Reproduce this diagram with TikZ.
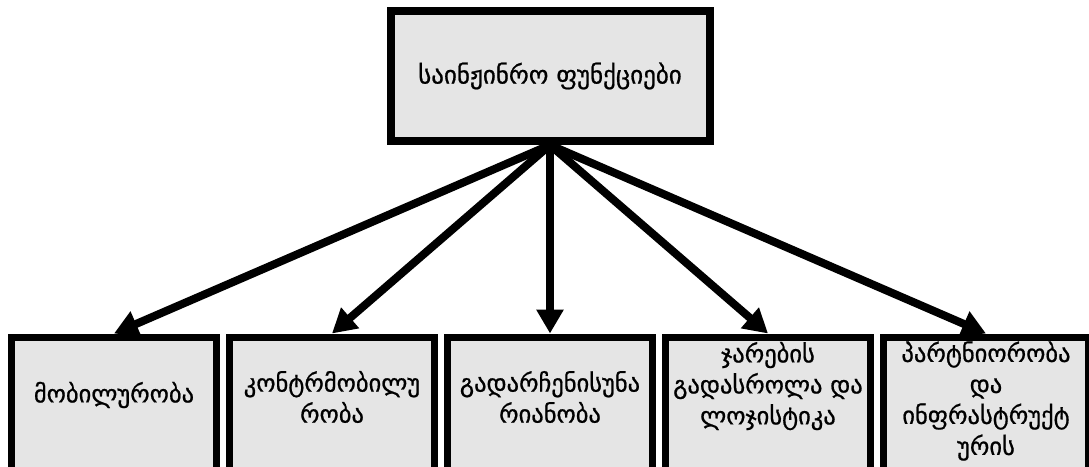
\documentclass[tikz,border=0pt]{standalone}
\usepackage{fontspec}
\newfontfamily\geofont[FakeBold=0.8]{DejaVu Sans}
\usetikzlibrary{positioning,arrows.meta}
\tikzset{
  topbox/.style  = {draw, line width=8pt, fill=black!10, minimum width=319pt,
                    minimum height=130pt, inner sep=0pt,
                    font=\geofont\fontsize{25}{31}\selectfont},
  cellbox/.style = {draw, line width=7pt, fill=black!10, anchor=north,
                    minimum width=205pt, minimum height=160pt, inner sep=0pt},
  celltxt/.style = {align=center, inner sep=0pt,
                    font=\geofont\fontsize{24.5}{31}\selectfont},
  harrow/.style  = {line width=8pt, -{Triangle[length=24pt,width=26pt]}},
}

\begin{document}
\begin{tikzpicture}[x=1pt,y=-1pt]
  \useasboundingbox (0,0) rectangle (1089,466);
  \clip (0,0) rectangle (1089,466);
  % top
  \node[topbox] (top) at (550,76) {საინჟინრო ფუნქციები};
  % bottom row
  \node[cellbox] (b1) at (114,333.5) {};
  \node[cellbox] (b2) at (332,333.5) {};
  \node[cellbox] (b3) at (550,333.5) {};
  \node[cellbox] (b4) at (768,333.5) {};
  \node[cellbox] (b5) at (986,333.5) {};
  \node[celltxt] (t1) at (114,395) {მობილურობა};
  \node[celltxt] (t2) at (332,397) {კონტრმობილუ\\რობა};
  \node[celltxt] (t3) at (550,397) {გადარჩენისუნა\\რიანობა};
  \node[celltxt] (t4) at (768,386) {ჯარების\\გადასროლა და\\ლოჯისტიკა};
  \node[celltxt] (t5) at (986,401) {პარტნიორობა\\და\\ინფრასტრუქტ\\ურის};
  % arrows
  \draw[harrow] (top.south) -- (b1.north);
  \draw[harrow] (top.south) -- (b2.north);
  \draw[harrow] (top.south) -- (b3.north);
  \draw[harrow] (top.south) -- (b4.north);
  \draw[harrow] (top.south) -- (b5.north);
\end{tikzpicture}
\end{document}
